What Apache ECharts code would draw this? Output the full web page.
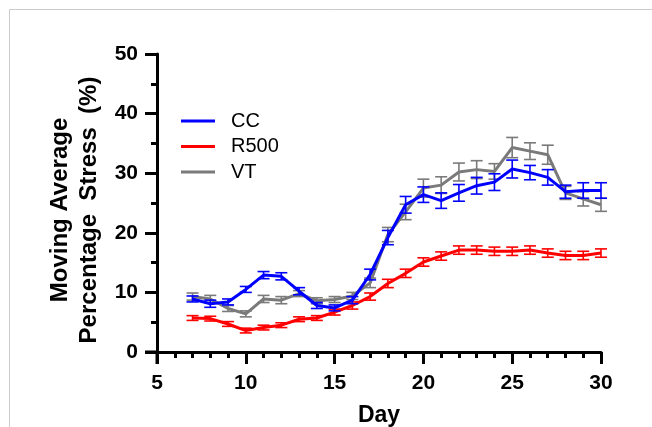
<!DOCTYPE html>
<html>
<head>
<meta charset="utf-8">
<script src="https://cdn.jsdelivr.net/npm/echarts@6/dist/echarts.min.js"></script>
<style>
html, body { margin: 0; padding: 0; background: #fff; }
#chart { width: 652px; height: 427px; }
</style>
</head>
<body>
<div id="chart"></div>
<script>
// data (mean +/- error bar half height)
const days = [7, 8, 9, 10, 11, 12, 13, 14, 15, 16, 17, 18, 19, 20, 21, 22, 23, 24, 25, 26, 27, 28, 29, 30];
const ccMean = [8.9, 8.1, 8.4, 10.5, 12.9, 12.7, 10.2, 7.8, 7.4, 8.7, 13.0, 19.2, 24.7, 26.4, 25.4, 26.7, 27.9, 28.5, 30.7, 30.1, 29.3, 26.9, 27.1, 27.1];
const ccErr = [0.5, 0.6, 0.5, 0.5, 0.6, 0.6, 0.6, 0.5, 0.5, 0.6, 0.9, 1.2, 1.4, 1.3, 1.3, 1.4, 1.4, 1.4, 1.5, 1.2, 1.3, 1.1, 1.3, 1.3];
const r500Mean = [5.7, 5.6, 4.7, 3.6, 4.1, 4.5, 5.5, 5.7, 6.7, 7.8, 9.3, 11.5, 13.2, 15.1, 16.1, 17.1, 17.1, 16.9, 16.9, 17.1, 16.6, 16.2, 16.2, 16.6];
const r500Err = [0.4, 0.4, 0.4, 0.4, 0.4, 0.4, 0.4, 0.4, 0.5, 0.6, 0.6, 0.7, 0.7, 0.7, 0.7, 0.7, 0.7, 0.7, 0.7, 0.7, 0.7, 0.7, 0.7, 0.7];
const vtMean = [9.3, 8.9, 7.3, 6.4, 8.9, 8.7, 9.8, 8.6, 8.8, 9.4, 11.6, 19.7, 23.5, 27.5, 28.0, 30.2, 30.6, 30.3, 34.3, 33.7, 33.1, 26.7, 25.7, 24.7];
const vtErr = [0.6, 0.6, 0.5, 0.5, 0.6, 0.6, 0.5, 0.5, 0.5, 0.6, 0.8, 1.2, 1.3, 1.5, 1.4, 1.5, 1.5, 1.3, 1.7, 1.4, 1.6, 1.1, 1.2, 1.1];
const xTicks = { min: 5, max: 30, interval: 5 };
const yTicks = { min: 0, max: 50, interval: 10 };

const FONT = "Liberation Sans, Arial, sans-serif";
const grid = { left: 157, right: 51, top: 54, bottom: 75, outerBoundsMode: "none" };
const W = 652, H = 427;
const axisY = H - grid.bottom;

// line series for the means
function meanSeries(name, mean, color, z) {
    return {
        type: "line",
        name: name,
        z: z,
        symbol: "none",
        color: color,
        lineStyle: { width: 3, color: color },
        data: days.map((d, i) => [d, mean[i]])
    };
}

// error bars drawn with a custom series
function errSeries(name, mean, err, color, z) {
    return {
        type: "custom",
        name: name + " err",
        z: z,
        silent: true,
        data: days.map((d, i) => [d, mean[i] - err[i], mean[i] + err[i]]),
        encode: { x: 0, y: [1, 2] },
        renderItem(params, api) {
            const lo = api.coord([api.value(0), api.value(1)]);
            const hi = api.coord([api.value(0), api.value(2)]);
            const half = 6;
            const st = { stroke: color, lineWidth: 1.6 };
            return {
                type: "group",
                children: [
                    { type: "line", shape: { x1: lo[0], y1: lo[1], x2: hi[0], y2: hi[1] }, style: st },
                    { type: "line", shape: { x1: hi[0] - half, y1: hi[1], x2: hi[0] + half, y2: hi[1] }, style: st },
                    { type: "line", shape: { x1: lo[0] - half, y1: lo[1], x2: lo[0] + half, y2: lo[1] }, style: st }
                ]
            };
        }
    };
}

const chart = echarts.init(document.getElementById("chart"));
const axisCommon = {
    axisLine: { show: true, lineStyle: { color: "#000", width: 3 } },
    axisTick: { show: true, inside: false, length: 12, lineStyle: { color: "#000", width: 3 } },
    minorTick: { show: true, length: 6, lineStyle: { color: "#000", width: 3 } },
    splitLine: { show: false },
    axisLabel: { color: "#000", fontFamily: FONT, fontWeight: "bold", fontSize: 21 },
    nameTextStyle: { color: "#000", fontFamily: FONT, fontWeight: "bold", fontSize: 23 }
};

chart.setOption({
    animation: false,
    backgroundColor: "#fff",
    grid: grid,
    legend: {
        data: ["CC", "R500", "VT"],
        orient: "vertical",
        left: 181,
        top: 111,
        padding: 0,
        icon: "rect",
        itemWidth: 34,
        itemHeight: 3,
        itemGap: 5.5,
        textStyle: { color: "#000", fontFamily: FONT, fontSize: 20, lineHeight: 20, padding: [0, 0, 0, 11] }
    },
    xAxis: Object.assign({}, axisCommon, {
        type: "value",
        min: xTicks.min,
        max: xTicks.max,
        interval: xTicks.interval,
        minorTick: Object.assign({}, axisCommon.minorTick, { splitNumber: 5 }),
        axisLabel: Object.assign({}, axisCommon.axisLabel, { margin: 21 }),
        name: "Day",
        nameLocation: "middle",
        nameGap: 52
    }),
    yAxis: Object.assign({}, axisCommon, {
        type: "value",
        min: yTicks.min,
        max: yTicks.max,
        interval: yTicks.interval,
        minorTick: Object.assign({}, axisCommon.minorTick, { splitNumber: 2 }),
        axisLabel: Object.assign({}, axisCommon.axisLabel, { margin: 19 }),
        name: "Moving Average\nPercentage  Stress  (%)",
        nameLocation: "middle",
        nameRotate: 90,
        nameGap: 53,
        nameTextStyle: Object.assign({}, axisCommon.nameTextStyle, { fontSize: 24, lineHeight: 29, padding: [0, 14, 0, 0] })
    }),
    graphic: [
        // outer light frame
        { type: "rect", z: -1, shape: { x: 9.5, y: 9.5, width: W + 20, height: H + 20 }, style: { fill: "none", stroke: "#cccccc", lineWidth: 1 } },
        // axis overhangs (GraphPad style)
        { type: "line", z: 5, shape: { x1: grid.left - 12, y1: axisY, x2: grid.left, y2: axisY }, style: { stroke: "#000", lineWidth: 3 } },
        { type: "line", z: 5, shape: { x1: grid.left, y1: axisY, x2: grid.left, y2: axisY + 12 }, style: { stroke: "#000", lineWidth: 3 } }
    ],
    series: [
        errSeries("VT", vtMean, vtErr, "#7a7a7a", 2),
        meanSeries("VT", vtMean, "#7a7a7a", 2),
        errSeries("R500", r500Mean, r500Err, "#ff0000", 3),
        meanSeries("R500", r500Mean, "#ff0000", 3),
        errSeries("CC", ccMean, ccErr, "#0000ff", 4),
        meanSeries("CC", ccMean, "#0000ff", 4)
    ]
});
</script>
</body>
</html>
